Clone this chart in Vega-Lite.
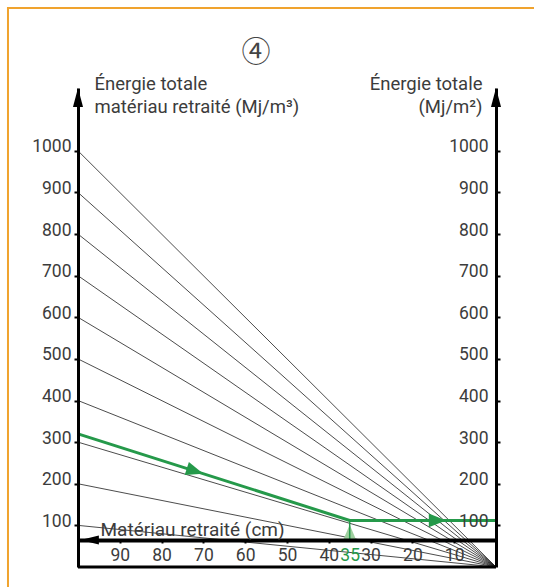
{
  "$schema": "https://vega.github.io/schema/vega-lite/v6.json",
  "width": 418,
  "height": 479,
  "autosize": {"type": "none"},
  "padding": {"left": 78, "top": 88, "right": 38, "bottom": 20},
  "background": "white",
  "config": {"view": {"stroke": null}, "font": "Roboto"},
  "datasets": {
    "fan": [
      {"series": "100", "cm": 100, "energie": 100}, {"series": "100", "cm": 0, "energie": 0},
      {"series": "200", "cm": 100, "energie": 200}, {"series": "200", "cm": 0, "energie": 0},
      {"series": "300", "cm": 100, "energie": 300}, {"series": "300", "cm": 0, "energie": 0},
      {"series": "400", "cm": 100, "energie": 400}, {"series": "400", "cm": 0, "energie": 0},
      {"series": "500", "cm": 100, "energie": 500}, {"series": "500", "cm": 0, "energie": 0},
      {"series": "600", "cm": 100, "energie": 600}, {"series": "600", "cm": 0, "energie": 0},
      {"series": "700", "cm": 100, "energie": 700}, {"series": "700", "cm": 0, "energie": 0},
      {"series": "800", "cm": 100, "energie": 800}, {"series": "800", "cm": 0, "energie": 0},
      {"series": "900", "cm": 100, "energie": 900}, {"series": "900", "cm": 0, "energie": 0},
      {"series": "1000", "cm": 100, "energie": 1000}, {"series": "1000", "cm": 0, "energie": 0}
    ],
    "green": [
      {"cm": 100, "energie": 320},
      {"cm": 35, "energie": 112},
      {"cm": 0, "energie": 112}
    ],
    "arrowDiag": [{"cm": 72, "energie": 230.4}],
    "arrowFlat": [{"cm": 14, "energie": 112}],
    "badge": [{"label": "④"}],
    "one": [{}]
  },
  "resolve": {"axis": {"x": "independent", "y": "independent"}},
  "layer": [
    {
      "data": {"name": "fan"},
      "mark": {"type": "line", "color": "#1e1e1e", "strokeWidth": 0.8},
      "encoding": {
        "x": {"field": "cm", "type": "quantitative",
          "scale": {"domain": [0, 100], "reverse": true, "nice": false},
          "axis": {
            "orient": "bottom", "offset": -27,
            "values": [10, 20, 30, 35, 40, 50, 60, 70, 80, 90],
            "grid": false,
            "domainColor": "black", "domainWidth": 4,
            "tickColor": {"condition": {"test": "datum.value == 35", "value": "transparent"}, "value": "black"},
            "tickWidth": 2, "tickSize": 3,
            "labelColor": {"condition": {"test": "datum.value == 35", "value": "#25994a"}, "value": "#3c3c3c"},
            "labelFont": "Roboto", "labelFontSize": 17.5, "labelPadding": 3,
            "labelOverlap": false, "labelBound": false, "labelFlush": false,
            "title": "Matériau retraité (cm)",
            "titleFont": "Roboto", "titleFontSize": 19, "titleFontWeight": "normal", "titleColor": "#3c3c3c",
            "titleAlign": "left", "titleBaseline": "alphabetic", "titleX": 22, "titleY": -5,
            "zindex": 1
          }},
        "y": {"field": "energie", "type": "quantitative",
          "scale": {"domain": [0, 1151], "nice": false},
          "axis": {
            "orient": "left", "format": "d",
            "values": [100, 200, 300, 400, 500, 600, 700, 800, 900, 1000],
            "grid": false,
            "domainColor": "black", "domainWidth": 3,
            "tickColor": "black", "tickWidth": 2, "tickSize": 4,
            "labelFont": "Roboto", "labelFontSize": 17.5, "labelColor": "#3c3c3c",
            "labelPadding": 3, "labelBaseline": "alphabetic", "labelOffset": 1,
            "title": ["Énergie totale", "matériau retraité (Mj/m³)"],
            "titleAngle": 0, "titleAlign": "left", "titleBaseline": "alphabetic",
            "titleX": 16, "titleY": 1, "titleLineHeight": 23,
            "titleFont": "Roboto", "titleFontSize": 18.5, "titleFontWeight": "normal", "titleColor": "#3c3c3c",
            "zindex": 1
          }},
        "detail": {"field": "series"}
      }
    },
    {
      "data": {"name": "green"},
      "mark": {"type": "line", "color": "#25994a", "strokeWidth": 3},
      "encoding": {
        "x": {"field": "cm", "type": "quantitative", "axis": null},
        "y": {"field": "energie", "type": "quantitative",
          "axis": {
            "orient": "right", "format": "d",
            "values": [100, 200, 300, 400, 500, 600, 700, 800, 900, 1000],
            "grid": false,
            "domainColor": "black", "domainWidth": 3,
            "tickColor": "black", "tickWidth": 2, "tickSize": 4,
            "labelFont": "Roboto", "labelFontSize": 17.5, "labelColor": "#3c3c3c",
            "labelAlign": "right", "labelPadding": -12, "labelBaseline": "alphabetic", "labelOffset": 1,
            "title": ["Énergie totale", "(Mj/m²)"],
            "titleAngle": 0, "titleAlign": "right", "titleBaseline": "alphabetic",
            "titleX": -14, "titleY": 1, "titleLineHeight": 23,
            "titleFont": "Roboto", "titleFontSize": 18.5, "titleFontWeight": "normal", "titleColor": "#3c3c3c",
            "zindex": 1
          }}
      }
    },
    {
      "data": {"name": "one"},
      "mark": {"type": "point", "shape": "M0,-1L-0.85,1L0.85,1Z", "size": 210, "filled": true, "color": "#9fcf9f", "opacity": 1, "strokeWidth": 0},
      "encoding": {
        "x": {"datum": 35, "type": "quantitative", "axis": null},
        "y": {"datum": 84, "type": "quantitative", "axis": null}
      }
    },
    {
      "data": {"name": "one"},
      "mark": {"type": "rule", "color": "#25994a", "strokeWidth": 1.5},
      "encoding": {
        "x": {"datum": 35, "type": "quantitative", "axis": null},
        "y": {"datum": 65, "type": "quantitative", "axis": null},
        "y2": {"datum": 112}
      }
    },
    {
      "data": {"name": "arrowDiag"},
      "mark": {"type": "point", "shape": "M1,0L-1,-0.8L-1,0.8Z", "size": 300, "filled": true, "color": "#25994a", "opacity": 1, "strokeWidth": 0, "angle": 17.6},
      "encoding": {
        "x": {"field": "cm", "type": "quantitative", "axis": null},
        "y": {"field": "energie", "type": "quantitative", "axis": null}
      }
    },
    {
      "data": {"name": "arrowFlat"},
      "mark": {"type": "point", "shape": "M1,0L-1,-0.8L-1,0.8Z", "size": 300, "filled": true, "color": "#25994a", "opacity": 1, "strokeWidth": 0},
      "encoding": {
        "x": {"field": "cm", "type": "quantitative", "axis": null},
        "y": {"field": "energie", "type": "quantitative", "axis": null}
      }
    },
    {
      "data": {"name": "one"},
      "mark": {"type": "point", "shape": "M0,-1L-0.53,1L0.53,1Z", "size": 361, "filled": true, "color": "black", "opacity": 1, "strokeWidth": 0},
      "encoding": {
        "x": {"datum": 100, "type": "quantitative", "axis": null},
        "y": {"datum": 1128, "type": "quantitative", "axis": null}
      }
    },
    {
      "data": {"name": "one"},
      "mark": {"type": "point", "shape": "M0,-1L-0.53,1L0.53,1Z", "size": 361, "filled": true, "color": "black", "opacity": 1, "strokeWidth": 0},
      "encoding": {
        "x": {"datum": 0, "type": "quantitative", "axis": null},
        "y": {"datum": 1128, "type": "quantitative", "axis": null}
      }
    },
    {
      "data": {"name": "one"},
      "mark": {"type": "point", "shape": "M-1,0L1,-0.5L1,0.5Z", "size": 335, "filled": true, "color": "black", "opacity": 1, "strokeWidth": 0},
      "encoding": {
        "x": {"datum": 97.2, "type": "quantitative", "axis": null},
        "y": {"datum": 64.9, "type": "quantitative", "axis": null}
      }
    },
    {
      "data": {"name": "one"},
      "mark": {"type": "rule", "color": "black", "strokeWidth": 3},
      "encoding": {
        "x": {"datum": 100, "type": "quantitative", "axis": null},
        "x2": {"datum": 0},
        "y": {"datum": 0, "type": "quantitative", "axis": null}
      }
    },
    {
      "data": {"name": "badge"},
      "mark": {"type": "text", "font": "Noto Sans CJK JP", "fontSize": 29, "color": "#444444", "align": "center", "baseline": "middle"},
      "encoding": {
        "text": {"field": "label"},
        "x": {"datum": 57.4, "type": "quantitative", "axis": null},
        "y": {"datum": 1235, "type": "quantitative", "axis": null}
      }
    },
    {
      "data": {"name": "one"},
      "mark": {"type": "rule", "color": "#f0a32e", "strokeWidth": 2},
      "encoding": {
        "x": {"datum": 116.75, "type": "quantitative", "axis": null},
        "y": {"datum": 1343.5, "type": "quantitative", "axis": null},
        "y2": {"datum": -100}
      }
    },
    {
      "data": {"name": "one"},
      "mark": {"type": "rule", "color": "#f0a32e", "strokeWidth": 2},
      "encoding": {
        "x": {"datum": 116.99, "type": "quantitative", "axis": null},
        "x2": {"datum": -15},
        "y": {"datum": 1343.5, "type": "quantitative", "axis": null}
      }
    }
  ]
}
